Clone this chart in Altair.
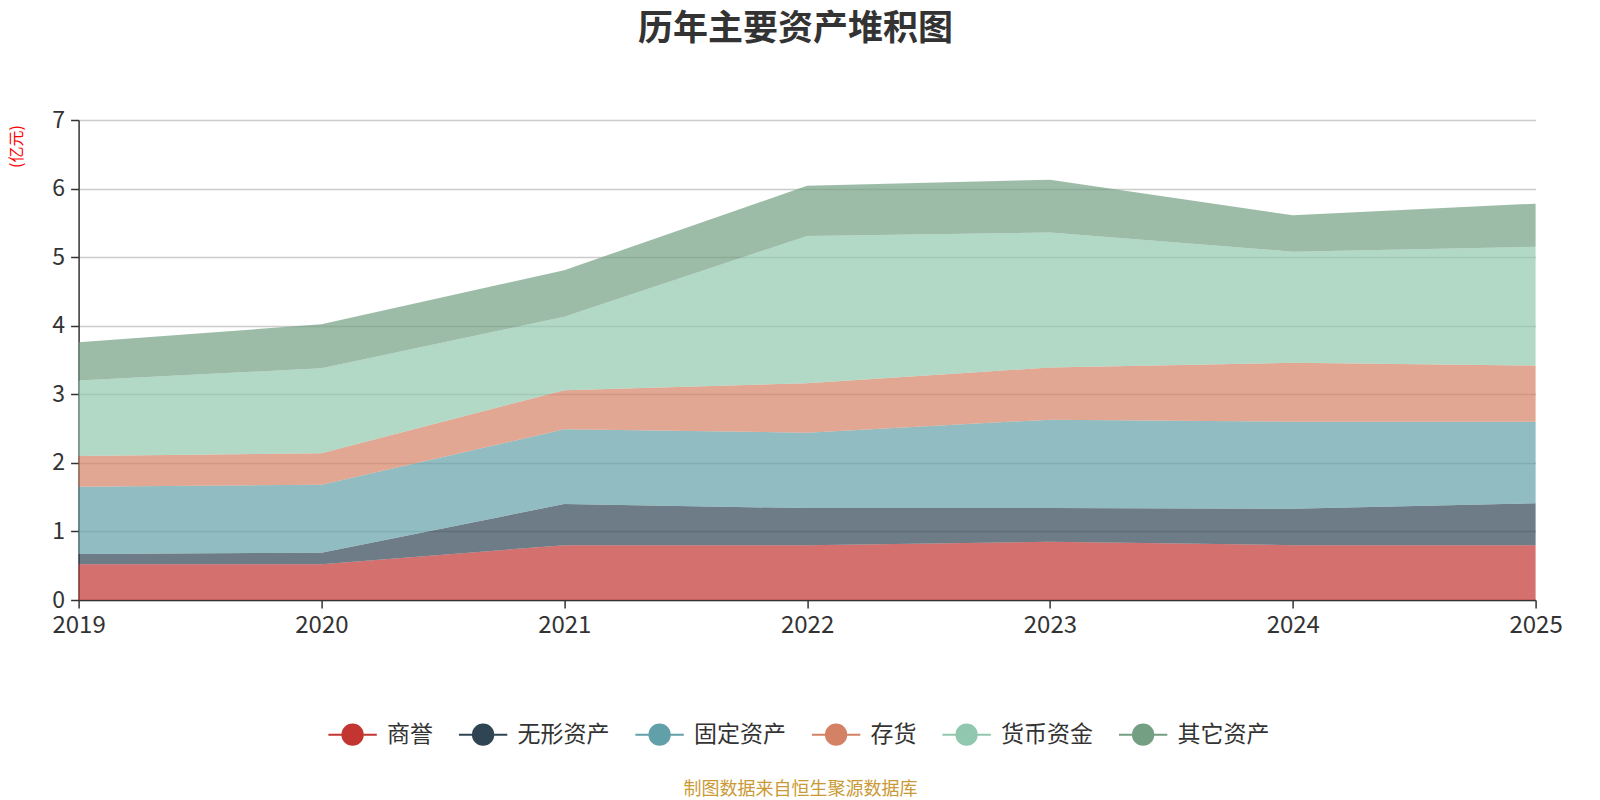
import altair as alt
import pandas as pd

years = [2019, 2020, 2021, 2022, 2023, 2024, 2025]
series_names = ["商誉", "无形资产", "固定资产", "存货", "货币资金", "其它资产"]
colors = ["#c23531", "#2f4554", "#61a0a8", "#d48265", "#91c7ae", "#749f83"]

goodwill = [0.52, 0.52, 0.80, 0.80, 0.85, 0.80, 0.80]
intangible = [0.15, 0.17, 0.60, 0.54, 0.49, 0.53, 0.61]
fixed_assets = [0.98, 0.99, 1.09, 1.10, 1.29, 1.27, 1.19]
inventory = [0.45, 0.46, 0.57, 0.72, 0.76, 0.86, 0.82]
cash = [1.10, 1.24, 1.07, 2.15, 1.97, 1.62, 1.73]
other = [0.56, 0.64, 0.68, 0.73, 0.77, 0.53, 0.63]

title_text = "历年主要资产堆积图"
footer_text = "制图数据来自恒生聚源数据库"
y_unit = "(亿元)"
y_ticks = [0, 1, 2, 3, 4, 5, 6, 7]

all_series = [goodwill, intangible, fixed_assets, inventory, cash, other]
rows = []
for idx, (name, vals) in enumerate(zip(series_names, all_series)):
    for yr, v in zip(years, vals):
        rows.append({"year": yr, "series": name, "value": v, "idx": idx})
df = pd.DataFrame(rows)

FONT = "Noto Sans CJK SC"
W, H = 1457, 480
PAD_L, PAD_T = 78.6, 120

legend_shape = "M-1,0H1M-0.42,0A0.42,0.42,0,1,1,0.42,0A0.42,0.42,0,1,1,-0.42,0Z"

scale = alt.Scale(domain=series_names, range=colors)
legend = alt.Legend(
    title=None,
    orient="none",
    direction="horizontal",
    columns=6,
    legendX=248.5,
    legendY=589,
    symbolType=legend_shape,
    symbolSize=2343,
    symbolStrokeWidth=2,
    symbolOpacity=1,
    labelFont=FONT,
    labelFontSize=23,
    labelColor="#333333",
    labelOffset=9,
    columnPadding=21.5,
    labelLimit=300,
    padding=0,
)

area = alt.Chart(df).mark_area(interpolate="linear").encode(
    x=alt.X(
        "year:Q",
        scale=alt.Scale(domain=[2019, 2025], nice=False, zero=False),
        axis=alt.Axis(
            title=None,
            values=years,
            format="d",
            grid=False,
            labelFlush=False,
            labelOverlap=False,
            labelFont=FONT,
            labelFontSize=24,
            labelColor="#333333",
            labelPadding=5,
            tickSize=8,
            tickColor="#333333",
            tickWidth=1.5,
            domainColor="#333333",
            domainWidth=1.5,
        ),
    ),
    y=alt.Y(
        "value:Q",
        stack="zero",
        scale=alt.Scale(domain=[0, 7], nice=False),
        axis=alt.Axis(
            title=y_unit,
            values=y_ticks,
            format="d",
            grid=True,
            gridColor="#cccccc",
            gridWidth=1.5,
            labelFont=FONT,
            labelFontSize=23,
            labelColor="#333333",
            labelPadding=6,
            tickSize=8,
            tickColor="#333333",
            tickWidth=1.5,
            domainColor="#333333",
            domainWidth=1.5,
            titleFont=FONT,
            titleFontSize=16,
            titleFontWeight="normal",
            titleColor="#ff0000",
            titleAngle=270,
            titleAlign="center",
            titleBaseline="middle",
            titleX=-62,
            titleY=26,
        ),
    ),
    fill=alt.Fill("series:N", scale=scale, legend=legend),
    stroke=alt.Stroke("series:N", scale=scale, legend=legend),
    strokeWidth=alt.value(0),
    fillOpacity=alt.value(0.7),
    order=alt.Order("idx:Q", sort="ascending"),
)

title = alt.Chart(pd.DataFrame({"t": [title_text]})).mark_text(
    font=FONT, fontSize=35, fontWeight="bold", color="#333333",
    align="center", baseline="middle",
).encode(text="t:N", x=alt.value(717), y=alt.value(-91))

footer = alt.Chart(pd.DataFrame({"t": [footer_text]})).mark_text(
    font=FONT, fontSize=18, color="#c99a35",
    align="center", baseline="middle",
).encode(text="t:N", x=alt.value(722), y=alt.value(670))

chart = alt.layer(area, title, footer).properties(
    width=W,
    height=H,
    autosize=alt.AutoSizeParams(type="none"),
    padding={"left": PAD_L, "top": PAD_T, "right": 1600 - PAD_L - W, "bottom": 800 - PAD_T - H},
    background="white",
).configure_view(stroke=None)

chart.save("out.html", embed_options={"renderer": "svg", "actions": False})
